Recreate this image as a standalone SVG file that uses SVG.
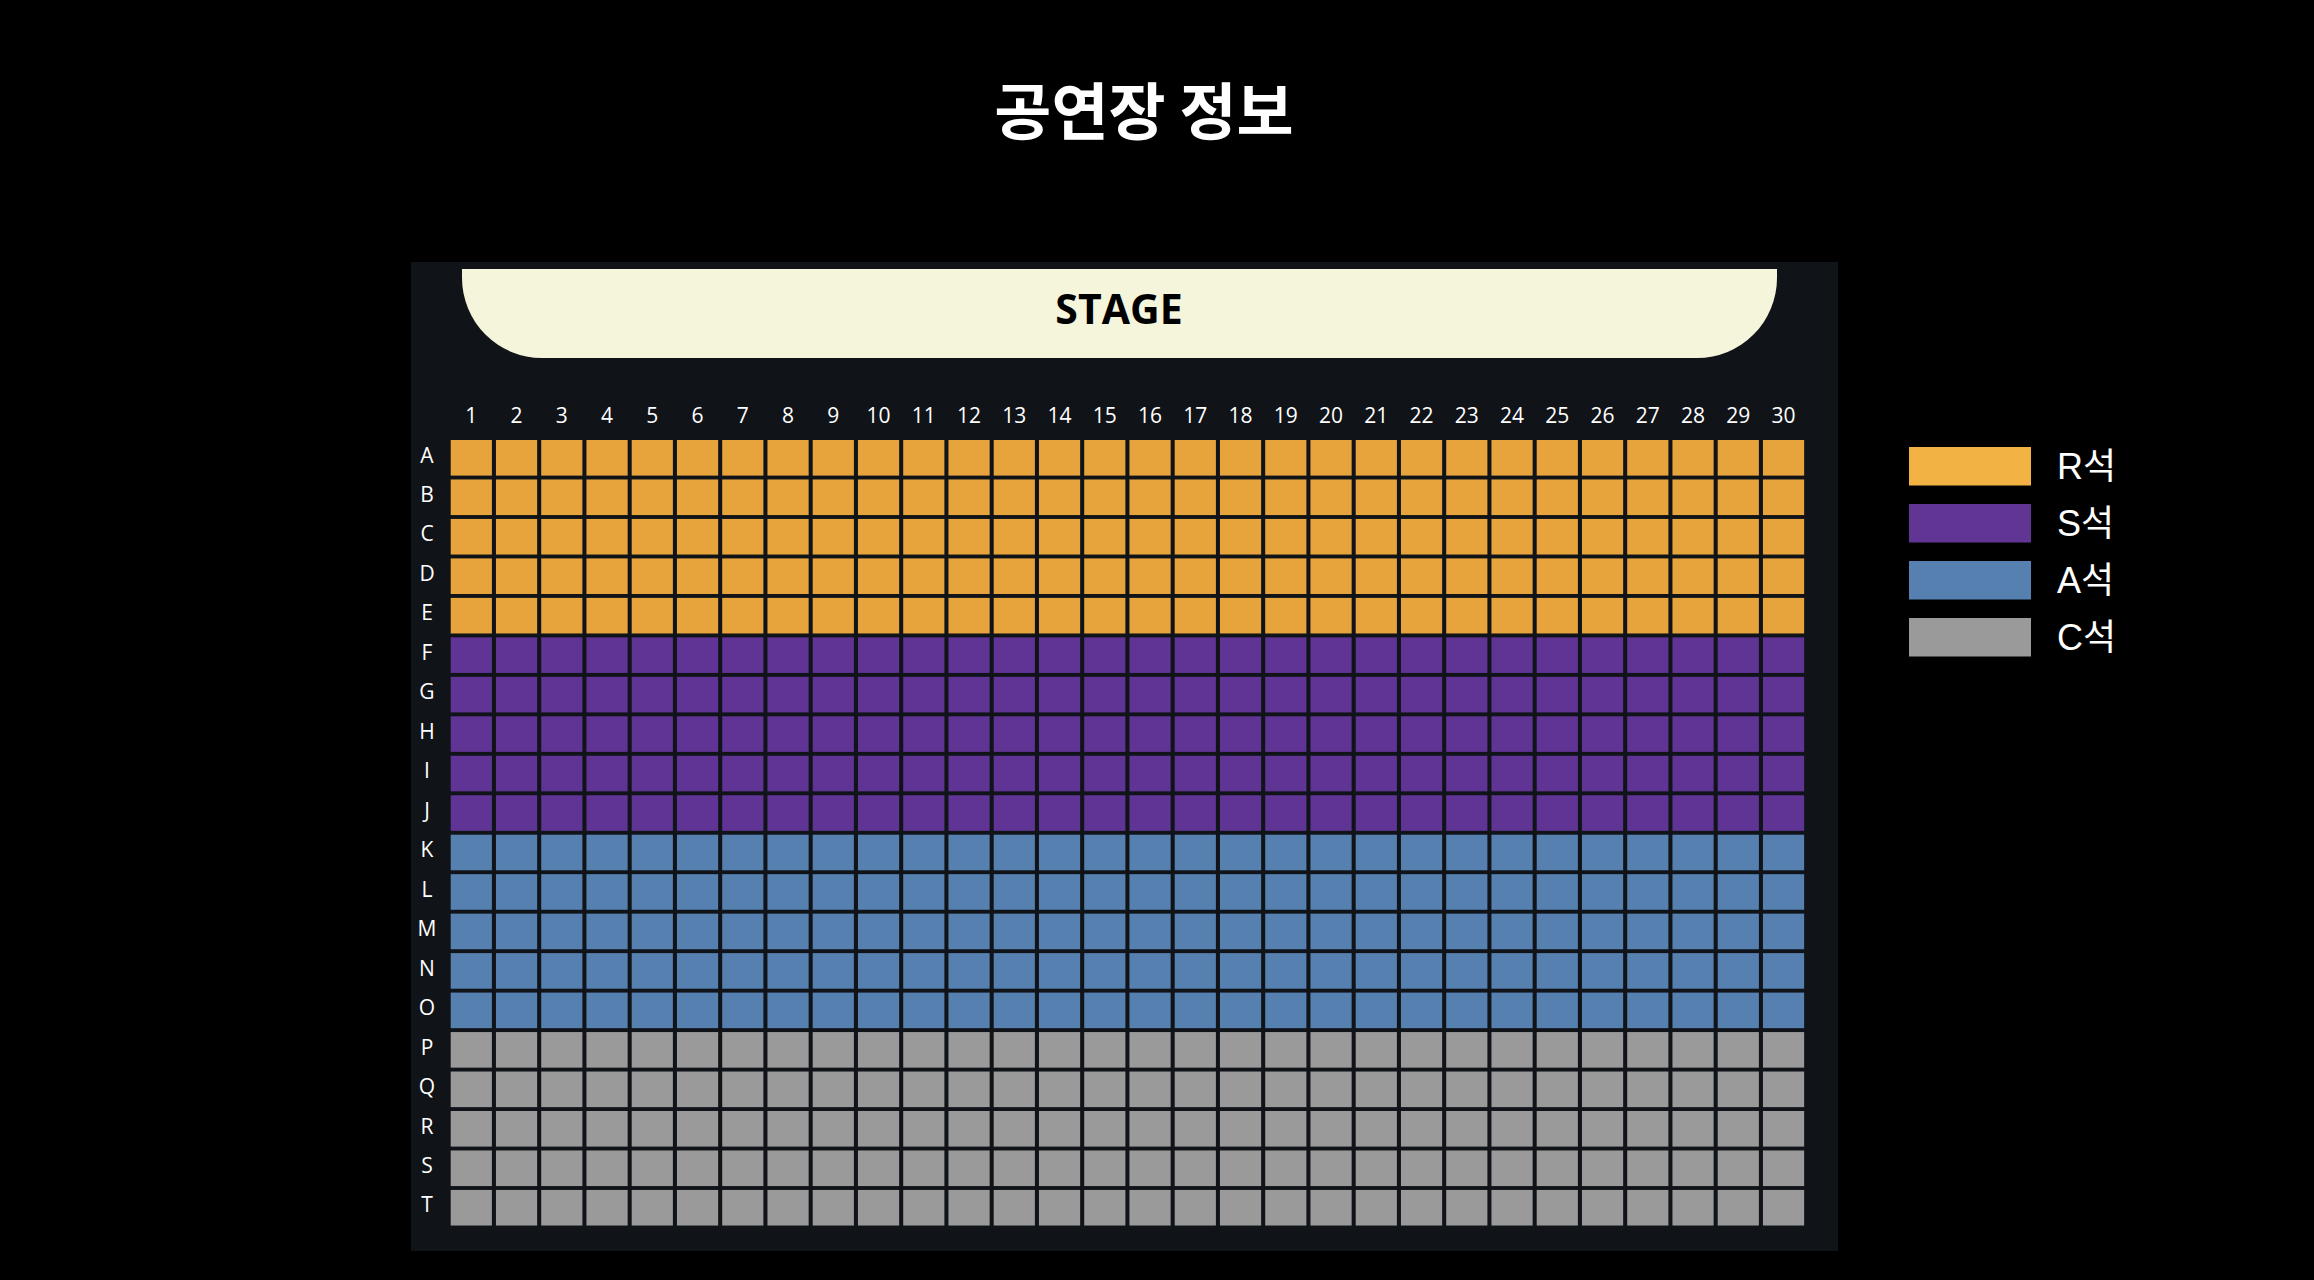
<svg xmlns="http://www.w3.org/2000/svg" xmlns:xlink="http://www.w3.org/1999/xlink" width="2314" height="1280" viewBox="0 0 2314 1280">
<style>
.title{font-family:"Noto Sans CJK KR","Noto Sans",sans-serif;font-weight:700;font-size:62px;fill:#ffffff}
.stage{font-family:"Open Sans","Noto Sans",sans-serif;font-weight:700;font-size:41px;fill:#000000}
.lbl{font-family:"Open Sans","Noto Sans",sans-serif;font-size:21px;font-weight:500;fill:#ffffff;text-anchor:middle}
.leg{font-family:"Liberation Sans","Noto Sans CJK KR",sans-serif;font-size:36px;fill:#ffffff}
.r{fill:#E8A43C}.s{fill:#5F3494}.a{fill:#5580B0}.c{fill:#9A9A9A}
</style>
<defs>
<g id="row">
<rect x="450.7" y="0" width="41.2" height="35.6"/><rect x="495.95" y="0" width="41.2" height="35.6"/><rect x="541.2" y="0" width="41.2" height="35.6"/><rect x="586.45" y="0" width="41.2" height="35.6"/><rect x="631.7" y="0" width="41.2" height="35.6"/><rect x="676.95" y="0" width="41.2" height="35.6"/><rect x="722.2" y="0" width="41.2" height="35.6"/><rect x="767.45" y="0" width="41.2" height="35.6"/><rect x="812.7" y="0" width="41.2" height="35.6"/><rect x="857.95" y="0" width="41.2" height="35.6"/><rect x="903.2" y="0" width="41.2" height="35.6"/><rect x="948.45" y="0" width="41.2" height="35.6"/><rect x="993.7" y="0" width="41.2" height="35.6"/><rect x="1038.95" y="0" width="41.2" height="35.6"/><rect x="1084.2" y="0" width="41.2" height="35.6"/><rect x="1129.45" y="0" width="41.2" height="35.6"/><rect x="1174.7" y="0" width="41.2" height="35.6"/><rect x="1219.95" y="0" width="41.2" height="35.6"/><rect x="1265.2" y="0" width="41.2" height="35.6"/><rect x="1310.45" y="0" width="41.2" height="35.6"/><rect x="1355.7" y="0" width="41.2" height="35.6"/><rect x="1400.95" y="0" width="41.2" height="35.6"/><rect x="1446.2" y="0" width="41.2" height="35.6"/><rect x="1491.45" y="0" width="41.2" height="35.6"/><rect x="1536.7" y="0" width="41.2" height="35.6"/><rect x="1581.95" y="0" width="41.2" height="35.6"/><rect x="1627.2" y="0" width="41.2" height="35.6"/><rect x="1672.45" y="0" width="41.2" height="35.6"/><rect x="1717.7" y="0" width="41.2" height="35.6"/><rect x="1762.95" y="0" width="41.2" height="35.6"/>
</g>
</defs>
<rect x="0" y="0" width="2314" height="1280" fill="#000000"/>
<text class="title" x="1144" y="135" text-anchor="middle">공연장 정보</text>
<g id="hall">
<rect x="411" y="262" width="1427" height="989" fill="#101318"/>
</g>
<g id="stage">
<path d="M462,269 H1777 V278 A80,80 0 0 1 1697,358 H542 A80,80 0 0 1 462,278 Z" fill="#F5F5DC"/>
<text class="stage" x="1119" y="324" text-anchor="middle">STAGE</text>
</g>
<g id="col-labels">
<text class="lbl" x="471.3" y="423">1</text><text class="lbl" x="516.55" y="423">2</text><text class="lbl" x="561.8" y="423">3</text><text class="lbl" x="607.05" y="423">4</text><text class="lbl" x="652.3" y="423">5</text><text class="lbl" x="697.55" y="423">6</text><text class="lbl" x="742.8" y="423">7</text><text class="lbl" x="788.05" y="423">8</text><text class="lbl" x="833.3" y="423">9</text><text class="lbl" x="878.55" y="423">10</text><text class="lbl" x="923.8" y="423">11</text><text class="lbl" x="969.05" y="423">12</text><text class="lbl" x="1014.3" y="423">13</text><text class="lbl" x="1059.55" y="423">14</text><text class="lbl" x="1104.8" y="423">15</text><text class="lbl" x="1150.05" y="423">16</text><text class="lbl" x="1195.3" y="423">17</text><text class="lbl" x="1240.55" y="423">18</text><text class="lbl" x="1285.8" y="423">19</text><text class="lbl" x="1331.05" y="423">20</text><text class="lbl" x="1376.3" y="423">21</text><text class="lbl" x="1421.55" y="423">22</text><text class="lbl" x="1466.8" y="423">23</text><text class="lbl" x="1512.05" y="423">24</text><text class="lbl" x="1557.3" y="423">25</text><text class="lbl" x="1602.55" y="423">26</text><text class="lbl" x="1647.8" y="423">27</text><text class="lbl" x="1693.05" y="423">28</text><text class="lbl" x="1738.3" y="423">29</text><text class="lbl" x="1783.55" y="423">30</text>
</g>
<g id="row-labels">
<text class="lbl" x="427" y="462.5">A</text><text class="lbl" x="427" y="502">B</text><text class="lbl" x="427" y="541.4">C</text><text class="lbl" x="427" y="580.9">D</text><text class="lbl" x="427" y="620.4">E</text><text class="lbl" x="427" y="659.9">F</text><text class="lbl" x="427" y="699.3">G</text><text class="lbl" x="427" y="738.8">H</text><text class="lbl" x="427" y="778.3">I</text><text class="lbl" x="427" y="817.7">J</text><text class="lbl" x="427" y="857.2">K</text><text class="lbl" x="427" y="896.7">L</text><text class="lbl" x="427" y="936.1">M</text><text class="lbl" x="427" y="975.6">N</text><text class="lbl" x="427" y="1015.1">O</text><text class="lbl" x="427" y="1054.5">P</text><text class="lbl" x="427" y="1094">Q</text><text class="lbl" x="427" y="1133.5">R</text><text class="lbl" x="427" y="1172.9">S</text><text class="lbl" x="427" y="1212.4">T</text>
</g>
<g id="seats">
<use xlink:href="#row" class="r" y="440"/><use xlink:href="#row" class="r" y="479.47"/><use xlink:href="#row" class="r" y="518.94"/><use xlink:href="#row" class="r" y="558.41"/><use xlink:href="#row" class="r" y="597.88"/>
<use xlink:href="#row" class="s" y="637.35"/><use xlink:href="#row" class="s" y="676.82"/><use xlink:href="#row" class="s" y="716.29"/><use xlink:href="#row" class="s" y="755.76"/><use xlink:href="#row" class="s" y="795.23"/>
<use xlink:href="#row" class="a" y="834.7"/><use xlink:href="#row" class="a" y="874.17"/><use xlink:href="#row" class="a" y="913.64"/><use xlink:href="#row" class="a" y="953.11"/><use xlink:href="#row" class="a" y="992.58"/>
<use xlink:href="#row" class="c" y="1032.05"/><use xlink:href="#row" class="c" y="1071.52"/><use xlink:href="#row" class="c" y="1110.99"/><use xlink:href="#row" class="c" y="1150.46"/><use xlink:href="#row" class="c" y="1189.93"/>
</g>
<g id="legend">
<g id="legend-r"><rect x="1909" y="447" width="122" height="38.5" fill="#F3B244"/><text class="leg" x="2057" y="479">R석</text></g>
<g id="legend-s"><rect x="1909" y="504" width="122" height="38.5" fill="#613594"/><text class="leg" x="2057" y="536">S석</text></g>
<g id="legend-a"><rect x="1909" y="561" width="122" height="38.5" fill="#5580B0"/><text class="leg" x="2057" y="593">A석</text></g>
<g id="legend-c"><rect x="1909" y="618" width="122" height="38.5" fill="#9A9A9A"/><text class="leg" x="2057" y="650">C석</text></g>
</g>
</svg>
